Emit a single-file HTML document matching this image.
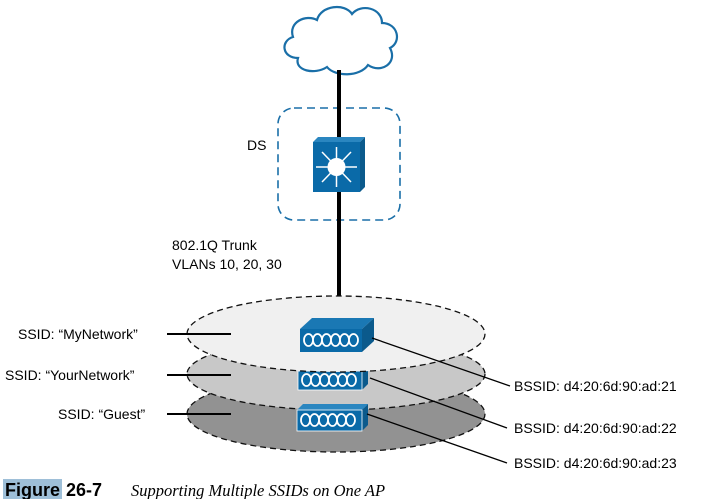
<!DOCTYPE html>
<html><head><style>
body{margin:0;background:#fff;}
svg{display:block}
text{font-family:"Liberation Sans",sans-serif;font-size:14px;fill:#000}
</style></head><body>
<svg width="723" height="499" viewBox="0 0 723 499">
<!-- cloud -->
<path d="M298,58 C282,58 280,41 293,37 C288,22 306,14 317,20 C321,5 345,3 352,14 C361,3 382,8 382,23 C398,23 402,42 390,48 C398,63 381,74 368,65 C360,77 335,77 327,67 C315,75 294,71 298,58 Z" fill="#fff" stroke="#1a6fa8" stroke-width="2.2"/>
<rect x="278" y="108" width="122" height="112" rx="16" fill="none" stroke="#1a6fa8" stroke-width="1.6" stroke-dasharray="8,5"/>
<text x="247" y="150">DS</text>
<line x1="339" y1="70" x2="339" y2="297" stroke="#000" stroke-width="4"/>
<!-- switch -->
<polygon points="313,142 318,137 365,137 360,142" fill="#2a86c0"/>
<polygon points="360,142 365,137 365,187 360,192" fill="#0b5a8c"/>
<rect x="313" y="142" width="47" height="50" fill="#0a6aa8"/>
<g stroke="#fff" stroke-width="1.5">
<line x1="336.5" y1="147" x2="336.5" y2="187"/><line x1="316" y1="167" x2="357" y2="167"/>
<line x1="322" y1="152" x2="351" y2="182"/><line x1="351" y1="152" x2="322" y2="182"/>
</g>
<circle cx="336.5" cy="167" r="9" fill="#fff"/>
<text x="172" y="250">802.1Q Trunk</text>
<text x="172" y="269">VLANs 10, 20, 30</text>
<ellipse cx="336" cy="414" rx="149" ry="38" fill="#929292" stroke="#111" stroke-width="1.3" stroke-dasharray="6,4"/>
<ellipse cx="336" cy="374" rx="149" ry="36" fill="#c8c8c8" stroke="#111" stroke-width="1.3" stroke-dasharray="6,4"/>
<polygon points="297,410 362,410 368,404 303,404" fill="#2a86c0"/>
<polygon points="362,410 368,404 368,425 362,431" fill="#0b5a8c"/>
<rect x="297" y="410" width="65" height="21" fill="#0a6aa8" stroke="#fff" stroke-width="0.8"/>
<polygon points="298,371 362,371 368,365 304,365" fill="#2a86c0"/>
<polygon points="362,371 368,365 368,384 362,390" fill="#0b5a8c"/>
<rect x="298" y="371" width="64" height="19" fill="#0a6aa8" stroke="#fff" stroke-width="0.8"/>
<ellipse cx="336" cy="334" rx="149" ry="38" fill="#f0f0f0" stroke="#111" stroke-width="1.3" stroke-dasharray="6,4"/>
<polygon points="300,329 362,329 374,318 312,318" fill="#1a78b4"/>
<polygon points="362,329 374,318 374,341 362,352" fill="#0b5a8c"/>
<rect x="300" y="329" width="62" height="23" fill="#0a6aa8"/>
<g transform="translate(304,334)" fill="none" stroke="#fff" stroke-width="1.8">
<path d="M0,6 a4.5,6 0 1,0 9,0 a4.5,6 0 1,0 -9,0 M9,6 a4.5,6 0 1,0 9,0 a4.5,6 0 1,0 -9,0 M18,6 a4.5,6 0 1,0 9,0 a4.5,6 0 1,0 -9,0 M27,6 a4.5,6 0 1,0 9,0 a4.5,6 0 1,0 -9,0 M36,6 a4.5,6 0 1,0 9,0 a4.5,6 0 1,0 -9,0 M45,6 a4.5,6 0 1,0 9,0 a4.5,6 0 1,0 -9,0"/>
</g>
<g transform="translate(302,374)" fill="none" stroke="#fff" stroke-width="1.8">
<path d="M0,6 a4.5,6 0 1,0 9,0 a4.5,6 0 1,0 -9,0 M9,6 a4.5,6 0 1,0 9,0 a4.5,6 0 1,0 -9,0 M18,6 a4.5,6 0 1,0 9,0 a4.5,6 0 1,0 -9,0 M27,6 a4.5,6 0 1,0 9,0 a4.5,6 0 1,0 -9,0 M36,6 a4.5,6 0 1,0 9,0 a4.5,6 0 1,0 -9,0 M45,6 a4.5,6 0 1,0 9,0 a4.5,6 0 1,0 -9,0"/>
</g>
<g transform="translate(301,414)" fill="none" stroke="#fff" stroke-width="1.8">
<path d="M0,6 a4.5,6 0 1,0 9,0 a4.5,6 0 1,0 -9,0 M9,6 a4.5,6 0 1,0 9,0 a4.5,6 0 1,0 -9,0 M18,6 a4.5,6 0 1,0 9,0 a4.5,6 0 1,0 -9,0 M27,6 a4.5,6 0 1,0 9,0 a4.5,6 0 1,0 -9,0 M36,6 a4.5,6 0 1,0 9,0 a4.5,6 0 1,0 -9,0 M45,6 a4.5,6 0 1,0 9,0 a4.5,6 0 1,0 -9,0"/>
</g>
<g stroke="#000" stroke-width="1.3">
<line x1="372" y1="338" x2="510" y2="386"/>
<line x1="370" y1="378" x2="507" y2="428"/>
<line x1="367" y1="414" x2="507" y2="463"/>
<line x1="167" y1="334" x2="231" y2="334" stroke-width="2"/>
<line x1="167" y1="375" x2="231" y2="375" stroke-width="2"/>
<line x1="167" y1="414" x2="231" y2="414" stroke-width="2"/>
</g>
<text x="18" y="339">SSID: “MyNetwork”</text>
<text x="5" y="380">SSID: “YourNetwork”</text>
<text x="58" y="419">SSID: “Guest”</text>
<text x="514" y="391">BSSID: d4:20:6d:90:ad:21</text>
<text x="514" y="433">BSSID: d4:20:6d:90:ad:22</text>
<text x="514" y="468">BSSID: d4:20:6d:90:ad:23</text>
<rect x="3" y="479" width="59" height="20" fill="#9ebfd8"/>
<text x="5" y="496" style="font-size:18px;font-weight:bold">Figure</text>
<text x="66" y="496" style="font-size:18px;font-weight:bold">26-7</text>
<text x="131" y="496" style="font-family:'Liberation Serif',serif;font-style:italic;font-size:16.5px">Supporting Multiple SSIDs on One AP</text>
</svg>
</body></html>
